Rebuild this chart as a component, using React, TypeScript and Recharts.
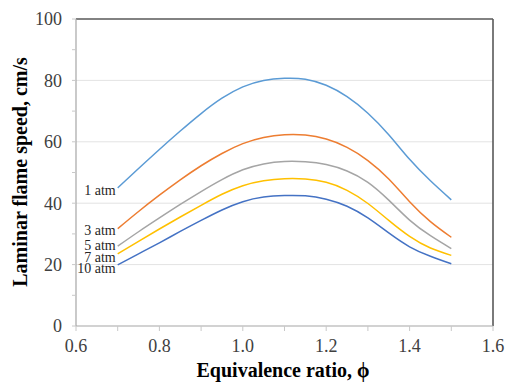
import React from "react";
import {
  LineChart,
  Line,
  XAxis,
  YAxis,
  ReferenceLine,
} from "recharts";

// equivalence ratio samples
const phi = [
  0.7, 0.75, 0.8, 0.85, 0.9, 0.95, 1.0, 1.05, 1.1, 1.15, 1.2, 1.25, 1.3, 1.35,
  1.4, 1.45, 1.5,
];

// laminar flame speed, cm/s
const atm1 = [
  45.0, 51.3, 57.5, 63.5, 69.2, 74.2, 77.9, 80.0, 80.7, 80.4, 78.4, 74.7,
  69.3, 62.3, 54.3, 47.3, 41.1,
];
const atm3 = [
  31.7, 37.3, 42.6, 47.6, 52.2, 56.2, 59.4, 61.4, 62.3, 62.2, 60.9, 58.2,
  53.9, 47.9, 40.5, 34.0, 28.9,
];
const atm5 = [
  26.0, 30.7, 35.2, 39.6, 43.8, 47.7, 50.9, 52.8, 53.6, 53.5, 52.6, 50.5,
  46.8, 41.0, 34.5, 29.4, 25.2,
];
const atm7 = [
  23.5, 27.6, 31.6, 35.5, 39.3, 42.9, 45.7, 47.3, 48.0, 47.9, 46.8, 44.2,
  39.9, 34.4, 29.2, 25.4, 23.0,
];
const atm10 = [
  19.9, 23.5, 27.1, 30.8, 34.4, 37.8, 40.5, 42.0, 42.5, 42.4, 41.3, 39.0,
  35.2, 30.3, 25.8, 22.7, 20.3,
];

const seriesNames = ["1 atm", "3 atm", "5 atm", "7 atm", "10 atm"];
const seriesValues = [atm1, atm3, atm5, atm7, atm10];

const xTicks = [0.6, 0.7, 0.8, 0.9, 1.0, 1.1, 1.2, 1.3, 1.4, 1.5, 1.6];
const yTicks = [0, 10, 20, 30, 40, 50, 60, 70, 80, 90, 100];
const gridValues = [20, 40, 60, 80];

const COLORS = ["#5B9BD5", "#ED7D31", "#A5A5A5", "#FFC000", "#4472C4"];
const LABEL_DY = [3, 2, 0, 4, 4];

const FONT = "'Liberation Serif', 'Times New Roman', 'DejaVu Serif', serif";

const data = phi.map((p, i) => {
  const row: Record<string, number> = { phi: p };
  seriesNames.forEach((name, s) => {
    row[name] = seriesValues[s][i];
  });
  return row;
});

// only even tenths get a label on x
function XTick({ x, y, payload }: any) {
  const v = payload.value as number;
  if (Math.round(v * 10) % 2 !== 0) return <g />;
  return (
    <text
      x={x}
      y={y}
      dy="0.71em"
      textAnchor="middle"
      fontSize={18}
      fill="#404040"
      style={{ fontFamily: FONT }}
    >
      {v.toFixed(1)}
    </text>
  );
}

function YTick({ x, y, payload }: any) {
  const v = payload.value as number;
  if (v % 20 !== 0) return <g />;
  return (
    <text
      x={x}
      y={y}
      dy="0.355em"
      textAnchor="end"
      fontSize={18}
      fill="#404040"
      style={{ fontFamily: FONT }}
    >
      {v}
    </text>
  );
}

export default function App() {
  return (
    <div
      style={{
        position: "absolute",
        left: 0,
        top: 0,
        width: 506,
        height: 382,
        background: "#fff",
        fontFamily: FONT,
      }}
    >
      <LineChart
        width={506}
        height={382}
        data={data}
        margin={{ top: 19, right: 13, bottom: 26, left: 16 }}
      >
        {gridValues.map((v) => (
          <ReferenceLine key={v} y={v} stroke="#e3e3e3" strokeWidth={1} />
        ))}
        <ReferenceLine y={100} stroke="#595959" strokeWidth={1.6} />
        <ReferenceLine x={1.6} stroke="#595959" strokeWidth={1.6} />
        <XAxis
          dataKey="phi"
          type="number"
          domain={[0.6, 1.6]}
          ticks={xTicks}
          interval={0}
          height={30}
          tickSize={5}
          tickMargin={8}
          tick={<XTick />}
          axisLine={{ stroke: "#a6a6a6", strokeWidth: 1.2 }}
          tickLine={{ stroke: "#c8c8c8" }}
        />
        <YAxis
          type="number"
          domain={[0, 100]}
          ticks={yTicks}
          interval={0}
          width={60}
          tickSize={4}
          tickMargin={10}
          tick={<YTick />}
          axisLine={{ stroke: "#a6a6a6", strokeWidth: 1.2 }}
          tickLine={{ stroke: "#c8c8c8" }}
        />
        {seriesNames.map((name, i) => (
          <Line
            key={name}
            type="natural"
            dataKey={name}
            stroke={COLORS[i]}
            strokeWidth={1.5}
            dot={false}
            isAnimationActive={false}
            label={(props: any) =>
              props.index === 0 ? (
                <text
                  key={name}
                  x={props.x - 2}
                  y={props.y + LABEL_DY[i]}
                  dy={4}
                  textAnchor="end"
                  fontSize={14}
                  style={{ fontFamily: FONT }}
                  fill="#262626"
                >
                  {name}
                </text>
              ) : (
                <g key={props.index} />
              )
            }
          />
        ))}
        <text
          x={283}
          y={377}
          textAnchor="middle"
          fontSize={20}
          fontWeight="bold"
          style={{ fontFamily: FONT }}
          fill="#000"
        >
          Equivalence ratio, ϕ
        </text>
        <text
          x={27}
          y={172}
          transform="rotate(-90 27 172)"
          textAnchor="middle"
          fontSize={20}
          fontWeight="bold"
          style={{ fontFamily: FONT }}
          fill="#000"
        >
          Laminar flame speed, cm/s
        </text>
      </LineChart>
    </div>
  );
}
